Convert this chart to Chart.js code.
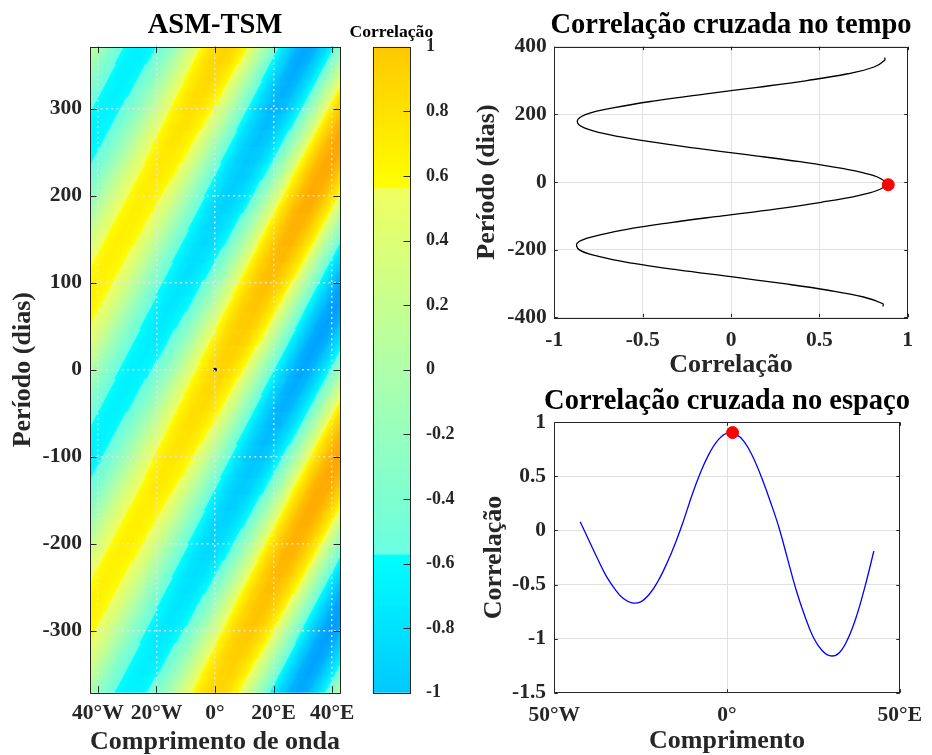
<!DOCTYPE html>
<html lang="pt">
<head>
<meta charset="utf-8">
<title>ASM-TSM</title>
<script src="https://cdn.jsdelivr.net/npm/chart.js"></script>
<style>
  html, body { margin: 0; padding: 0; background: #fff; }
  #quadro { position: relative; width: 932px; height: 755px; overflow: hidden; }
  canvas { position: absolute; }
</style>
</head>
<body>
<div id="quadro">
  <canvas id="mapa" width="365" height="755" style="left:0;top:0"></canvas>
  <canvas id="barra" width="115" height="755" style="left:340px;top:0"></canvas>
  <canvas id="tempo" width="472" height="390" style="left:460px;top:0"></canvas>
  <canvas id="espaco" width="472" height="385" style="left:460px;top:370px"></canvas>
</div>
<script>
// mapa ASM-TSM : colunas de longitude, linhas de defasagem (dias)
const lonColunas = [-45, -42, -39, -36, -33, -30, -27, -24, -21, -18, -15, -12, -9, -6, -3, 0,
  3, 6, 9, 12, 15, 18, 21, 24, 27, 30, 33, 36, 39, 42, 45];
const lagLinhas = [-361, -342, -323, -304, -285, -266, -247, -228, -209, -190, -171, -152, -133, -114, -95, -76, -57, -38, -19,
  0, 19, 38, 57, 76, 95, 114, 133, 152, 171, 190, 209, 228, 247, 266, 285, 304, 323, 342, 361];
const corrMapa = [
  [0.24, 0.02, -0.20, -0.40, -0.56, -0.65, -0.69, -0.65, -0.54, -0.37, -0.15, 0.11, 0.37, 0.60, 0.78, 0.88, 0.90, 0.81, 0.62, 0.35, 0.03, -0.32, -0.65, -0.93, -1.11, -1.17, -1.10, -0.90, -0.60, -0.23, 0.17],
  [0.43, 0.24, 0.02, -0.20, -0.40, -0.56, -0.66, -0.70, -0.67, -0.56, -0.38, -0.15, 0.11, 0.37, 0.62, 0.80, 0.91, 0.93, 0.83, 0.64, 0.37, 0.03, -0.33, -0.67, -0.95, -1.13, -1.19, -1.11, -0.91, -0.61, -0.24],
  [0.57, 0.43, 0.24, 0.02, -0.20, -0.40, -0.57, -0.67, -0.72, -0.69, -0.57, -0.39, -0.16, 0.11, 0.39, 0.64, 0.83, 0.94, 0.96, 0.86, 0.66, 0.38, 0.03, -0.34, -0.68, -0.96, -1.14, -1.20, -1.12, -0.92, -0.62],
  [0.65, 0.57, 0.43, 0.24, 0.02, -0.20, -0.41, -0.58, -0.69, -0.74, -0.70, -0.59, -0.41, -0.16, 0.12, 0.40, 0.66, 0.86, 0.97, 0.99, 0.89, 0.68, 0.39, 0.03, -0.34, -0.69, -0.98, -1.15, -1.21, -1.13, -0.93],
  [0.67, 0.65, 0.57, 0.43, 0.24, 0.02, -0.21, -0.41, -0.59, -0.71, -0.76, -0.72, -0.61, -0.42, -0.17, 0.12, 0.41, 0.68, 0.89, 1.00, 1.02, 0.91, 0.70, 0.40, 0.03, -0.35, -0.70, -0.99, -1.16, -1.22, -1.14],
  [0.61, 0.67, 0.65, 0.57, 0.43, 0.24, 0.02, -0.21, -0.43, -0.61, -0.73, -0.78, -0.75, -0.63, -0.43, -0.17, 0.13, 0.43, 0.70, 0.91, 1.03, 1.04, 0.94, 0.72, 0.40, 0.03, -0.36, -0.71, -0.99, -1.17, -1.23],
  [0.48, 0.61, 0.67, 0.65, 0.58, 0.43, 0.24, 0.02, -0.22, -0.44, -0.62, -0.75, -0.81, -0.77, -0.65, -0.45, -0.18, 0.13, 0.44, 0.72, 0.94, 1.06, 1.07, 0.96, 0.73, 0.41, 0.03, -0.36, -0.72, -1.00, -1.18],
  [0.30, 0.48, 0.61, 0.67, 0.66, 0.58, 0.44, 0.25, 0.02, -0.22, -0.45, -0.64, -0.78, -0.83, -0.80, -0.67, -0.46, -0.18, 0.13, 0.46, 0.75, 0.97, 1.09, 1.10, 0.98, 0.74, 0.42, 0.03, -0.36, -0.72, -1.01],
  [0.09, 0.30, 0.48, 0.61, 0.68, 0.66, 0.59, 0.45, 0.25, 0.02, -0.23, -0.46, -0.67, -0.80, -0.86, -0.83, -0.69, -0.48, -0.19, 0.14, 0.47, 0.77, 0.99, 1.12, 1.12, 1.00, 0.76, 0.42, 0.03, -0.36, -0.73],
  [-0.13, 0.09, 0.30, 0.48, 0.61, 0.68, 0.67, 0.60, 0.46, 0.26, 0.02, -0.23, -0.48, -0.68, -0.83, -0.89, -0.85, -0.72, -0.49, -0.19, 0.14, 0.48, 0.79, 1.02, 1.14, 1.14, 1.01, 0.76, 0.42, 0.03, -0.37],
  [-0.34, -0.13, 0.09, 0.30, 0.49, 0.61, 0.69, 0.68, 0.61, 0.47, 0.27, 0.02, -0.24, -0.49, -0.71, -0.86, -0.92, -0.88, -0.74, -0.51, -0.20, 0.15, 0.50, 0.81, 1.04, 1.16, 1.16, 1.02, 0.77, 0.43, 0.03],
  [-0.51, -0.34, -0.13, 0.09, 0.31, 0.49, 0.62, 0.70, 0.70, 0.63, 0.48, 0.27, 0.02, -0.25, -0.51, -0.73, -0.89, -0.95, -0.91, -0.76, -0.52, -0.21, 0.15, 0.51, 0.82, 1.06, 1.18, 1.17, 1.03, 0.78, 0.43],
  [-0.62, -0.51, -0.34, -0.13, 0.09, 0.31, 0.49, 0.63, 0.72, 0.72, 0.65, 0.50, 0.28, 0.02, -0.26, -0.53, -0.76, -0.91, -0.98, -0.94, -0.78, -0.54, -0.21, 0.15, 0.52, 0.84, 1.08, 1.19, 1.18, 1.04, 0.78],
  [-0.67, -0.62, -0.51, -0.34, -0.13, 0.09, 0.31, 0.50, 0.65, 0.74, 0.74, 0.66, 0.52, 0.29, 0.02, -0.27, -0.54, -0.78, -0.94, -1.01, -0.96, -0.81, -0.55, -0.22, 0.16, 0.53, 0.85, 1.08, 1.20, 1.19, 1.05],
  [-0.64, -0.67, -0.62, -0.51, -0.34, -0.13, 0.09, 0.32, 0.52, 0.67, 0.76, 0.76, 0.69, 0.53, 0.30, 0.02, -0.28, -0.56, -0.81, -0.97, -1.04, -0.99, -0.83, -0.57, -0.22, 0.16, 0.54, 0.86, 1.09, 1.21, 1.20],
  [-0.55, -0.64, -0.67, -0.62, -0.51, -0.34, -0.13, 0.10, 0.32, 0.53, 0.69, 0.78, 0.79, 0.71, 0.55, 0.31, 0.03, -0.28, -0.58, -0.83, -1.00, -1.07, -1.02, -0.85, -0.58, -0.22, 0.16, 0.54, 0.87, 1.10, 1.22],
  [-0.40, -0.55, -0.64, -0.67, -0.63, -0.51, -0.35, -0.13, 0.10, 0.33, 0.54, 0.71, 0.81, 0.81, 0.73, 0.57, 0.32, 0.03, -0.29, -0.60, -0.85, -1.03, -1.10, -1.05, -0.87, -0.59, -0.23, 0.16, 0.55, 0.87, 1.11],
  [-0.20, -0.40, -0.55, -0.64, -0.68, -0.63, -0.52, -0.35, -0.14, 0.10, 0.34, 0.56, 0.73, 0.83, 0.84, 0.76, 0.59, 0.33, 0.03, -0.30, -0.62, -0.88, -1.06, -1.13, -1.07, -0.88, -0.60, -0.23, 0.17, 0.55, 0.88],
  [0.02, -0.20, -0.40, -0.55, -0.65, -0.68, -0.64, -0.53, -0.36, -0.14, 0.10, 0.35, 0.58, 0.75, 0.85, 0.87, 0.78, 0.60, 0.34, 0.03, -0.31, -0.63, -0.90, -1.09, -1.15, -1.08, -0.90, -0.60, -0.23, 0.17, 0.55],
  [0.24, 0.02, -0.20, -0.40, -0.56, -0.65, -0.69, -0.65, -0.54, -0.37, -0.15, 0.11, 0.37, 0.60, 0.78, 0.88, 0.90, 0.81, 0.62, 0.35, 0.03, -0.32, -0.65, -0.93, -1.11, -1.17, -1.10, -0.90, -0.60, -0.23, 0.17],
  [0.43, 0.24, 0.02, -0.20, -0.40, -0.56, -0.66, -0.70, -0.67, -0.56, -0.38, -0.15, 0.11, 0.37, 0.62, 0.80, 0.91, 0.93, 0.83, 0.64, 0.37, 0.03, -0.33, -0.67, -0.95, -1.13, -1.19, -1.11, -0.91, -0.61, -0.24],
  [0.57, 0.43, 0.24, 0.02, -0.20, -0.40, -0.57, -0.67, -0.72, -0.69, -0.57, -0.39, -0.16, 0.11, 0.39, 0.64, 0.83, 0.94, 0.96, 0.86, 0.66, 0.38, 0.03, -0.34, -0.68, -0.96, -1.14, -1.20, -1.12, -0.92, -0.62],
  [0.65, 0.57, 0.43, 0.24, 0.02, -0.20, -0.41, -0.58, -0.69, -0.74, -0.70, -0.59, -0.41, -0.16, 0.12, 0.40, 0.66, 0.86, 0.97, 0.99, 0.89, 0.68, 0.39, 0.03, -0.34, -0.69, -0.98, -1.15, -1.21, -1.13, -0.93],
  [0.67, 0.65, 0.57, 0.43, 0.24, 0.02, -0.21, -0.41, -0.59, -0.71, -0.76, -0.72, -0.61, -0.42, -0.17, 0.12, 0.41, 0.68, 0.89, 1.00, 1.02, 0.91, 0.70, 0.40, 0.03, -0.35, -0.70, -0.99, -1.16, -1.22, -1.14],
  [0.61, 0.67, 0.65, 0.57, 0.43, 0.24, 0.02, -0.21, -0.43, -0.61, -0.73, -0.78, -0.75, -0.63, -0.43, -0.17, 0.13, 0.43, 0.70, 0.91, 1.03, 1.04, 0.94, 0.72, 0.40, 0.03, -0.36, -0.71, -0.99, -1.17, -1.23],
  [0.48, 0.61, 0.67, 0.65, 0.58, 0.43, 0.24, 0.02, -0.22, -0.44, -0.62, -0.75, -0.81, -0.77, -0.65, -0.45, -0.18, 0.13, 0.44, 0.72, 0.94, 1.06, 1.07, 0.96, 0.73, 0.41, 0.03, -0.36, -0.72, -1.00, -1.18],
  [0.30, 0.48, 0.61, 0.67, 0.66, 0.58, 0.44, 0.25, 0.02, -0.22, -0.45, -0.64, -0.78, -0.83, -0.80, -0.67, -0.46, -0.18, 0.13, 0.46, 0.75, 0.97, 1.09, 1.10, 0.98, 0.74, 0.42, 0.03, -0.36, -0.72, -1.01],
  [0.09, 0.30, 0.48, 0.61, 0.68, 0.66, 0.59, 0.45, 0.25, 0.02, -0.23, -0.46, -0.67, -0.80, -0.86, -0.83, -0.69, -0.48, -0.19, 0.14, 0.47, 0.77, 0.99, 1.12, 1.12, 1.00, 0.76, 0.42, 0.03, -0.36, -0.73],
  [-0.13, 0.09, 0.30, 0.48, 0.61, 0.68, 0.67, 0.60, 0.46, 0.26, 0.02, -0.23, -0.48, -0.68, -0.83, -0.89, -0.85, -0.72, -0.49, -0.19, 0.14, 0.48, 0.79, 1.02, 1.14, 1.14, 1.01, 0.76, 0.42, 0.03, -0.37],
  [-0.34, -0.13, 0.09, 0.30, 0.49, 0.61, 0.69, 0.68, 0.61, 0.47, 0.27, 0.02, -0.24, -0.49, -0.71, -0.86, -0.92, -0.88, -0.74, -0.51, -0.20, 0.15, 0.50, 0.81, 1.04, 1.16, 1.16, 1.02, 0.77, 0.43, 0.03],
  [-0.51, -0.34, -0.13, 0.09, 0.31, 0.49, 0.62, 0.70, 0.70, 0.63, 0.48, 0.27, 0.02, -0.25, -0.51, -0.73, -0.89, -0.95, -0.91, -0.76, -0.52, -0.21, 0.15, 0.51, 0.82, 1.06, 1.18, 1.17, 1.03, 0.78, 0.43],
  [-0.62, -0.51, -0.34, -0.13, 0.09, 0.31, 0.49, 0.63, 0.72, 0.72, 0.65, 0.50, 0.28, 0.02, -0.26, -0.53, -0.76, -0.91, -0.98, -0.94, -0.78, -0.54, -0.21, 0.15, 0.52, 0.84, 1.08, 1.19, 1.18, 1.04, 0.78],
  [-0.67, -0.62, -0.51, -0.34, -0.13, 0.09, 0.31, 0.50, 0.65, 0.74, 0.74, 0.66, 0.52, 0.29, 0.02, -0.27, -0.54, -0.78, -0.94, -1.01, -0.96, -0.81, -0.55, -0.22, 0.16, 0.53, 0.85, 1.08, 1.20, 1.19, 1.05],
  [-0.64, -0.67, -0.62, -0.51, -0.34, -0.13, 0.09, 0.32, 0.52, 0.67, 0.76, 0.76, 0.69, 0.53, 0.30, 0.02, -0.28, -0.56, -0.81, -0.97, -1.04, -0.99, -0.83, -0.57, -0.22, 0.16, 0.54, 0.86, 1.09, 1.21, 1.20],
  [-0.55, -0.64, -0.67, -0.62, -0.51, -0.34, -0.13, 0.10, 0.32, 0.53, 0.69, 0.78, 0.79, 0.71, 0.55, 0.31, 0.03, -0.28, -0.58, -0.83, -1.00, -1.07, -1.02, -0.85, -0.58, -0.22, 0.16, 0.54, 0.87, 1.10, 1.22],
  [-0.40, -0.55, -0.64, -0.67, -0.63, -0.51, -0.35, -0.13, 0.10, 0.33, 0.54, 0.71, 0.81, 0.81, 0.73, 0.57, 0.32, 0.03, -0.29, -0.60, -0.85, -1.03, -1.10, -1.05, -0.87, -0.59, -0.23, 0.16, 0.55, 0.87, 1.11],
  [-0.20, -0.40, -0.55, -0.64, -0.68, -0.63, -0.52, -0.35, -0.14, 0.10, 0.34, 0.56, 0.73, 0.83, 0.84, 0.76, 0.59, 0.33, 0.03, -0.30, -0.62, -0.88, -1.06, -1.13, -1.07, -0.88, -0.60, -0.23, 0.17, 0.55, 0.88],
  [0.02, -0.20, -0.40, -0.55, -0.65, -0.68, -0.64, -0.53, -0.36, -0.14, 0.10, 0.35, 0.58, 0.75, 0.85, 0.87, 0.78, 0.60, 0.34, 0.03, -0.31, -0.63, -0.90, -1.09, -1.15, -1.08, -0.90, -0.60, -0.23, 0.17, 0.55],
  [0.24, 0.02, -0.20, -0.40, -0.56, -0.65, -0.69, -0.65, -0.54, -0.37, -0.15, 0.11, 0.37, 0.60, 0.78, 0.88, 0.90, 0.81, 0.62, 0.35, 0.03, -0.32, -0.65, -0.93, -1.11, -1.17, -1.10, -0.90, -0.60, -0.23, 0.17]
];
const ticksLon = [-40, -20, 0, 20, 40];
const ticksPeriodo = [-300, -200, -100, 0, 100, 200, 300];
const ticksBarra = [-1, -0.8, -0.6, -0.4, -0.2, 0, 0.2, 0.4, 0.6, 0.8, 1];

// correlação cruzada no tempo
const periodoDias = [-368, -360, -340, -320, -300, -280, -260, -240, -220, -200, -180, -160, -140, -120, -100,
  -80, -60, -40, -20, 0, 20, 40, 60, 80, 100, 120, 140, 160, 180, 200, 220, 240, 260, 280, 300, 320, 340, 360, 368];
const corrTempo = [0.86, 0.86, 0.75, 0.55, 0.29, 0.00, -0.30, -0.56, -0.75, -0.86, -0.87, -0.77, -0.59, -0.34, -0.05,
  0.25, 0.51, 0.72, 0.85, 0.87, 0.80, 0.63, 0.39, 0.10, -0.20, -0.47, -0.69, -0.83, -0.87, -0.82, -0.66, -0.43, -0.15, 0.15, 0.43, 0.66, 0.81, 0.87, 0.87];
const maxTempo = [0.89, -8];
const ticksTempoX = [-1, -0.5, 0, 0.5, 1];
const ticksTempoY = [-400, -200, 0, 200, 400];

// correlação cruzada no espaço
const lonEspaco = [-42.5, -40, -37.5, -35, -32.5, -30, -27.5, -25, -22.5, -20, -17.5, -15, -12.5, -10, -7.5, -5, -2.5, 0,
  2.5, 5, 7.5, 10, 12.5, 15, 17.5, 20, 22.5, 25, 27.5, 30, 32.5, 35, 37.5, 40, 42.5];
const corrEspaco = [0.08, -0.09, -0.26, -0.42, -0.54, -0.63, -0.67, -0.66, -0.59, -0.47, -0.31, -0.12, 0.10, 0.34, 0.55, 0.72, 0.84, 0.90,
  0.89, 0.82, 0.68, 0.49, 0.27, 0.03, -0.26, -0.55, -0.79, -0.99, -1.11, -1.16, -1.13, -1.00, -0.79, -0.51, -0.19];
const maxEspaco = [1.6, 0.905];
const ticksEspacoX = [-50, 0, 50];
const ticksEspacoY = [-1.5, -1, -0.5, 0, 0.5, 1];

// inclinação das faixas: 3 graus (uma coluna) a cada 19 dias (uma linha)
const inclinacao = 3 / 19;

const fonte = '"Liberation Serif", "Times New Roman", serif';
Chart.defaults.font.family = fonte;
Chart.defaults.font.weight = 'bold';
Chart.defaults.color = '#262626';
Chart.defaults.animation = false;
Chart.defaults.plugins.legend.display = false;
Chart.defaults.plugins.tooltip.enabled = false;

// mapa de cores (valor, r, g, b)
const mapaCores = [
  [-1.25, 0, 150, 255],
  [-1.0, 0, 200, 255],
  [-0.575, 0, 255, 255],
  [-0.57, 105, 255, 225],
  [0, 175, 255, 170],
  [0.56, 240, 255, 95],
  [0.565, 255, 255, 0],
  [1.0, 255, 200, 0],
  [1.25, 255, 160, 0]
];

function corDe(v) {
  const a = mapaCores;
  if (v <= a[0][0]) return `rgb(${a[0][1]},${a[0][2]},${a[0][3]})`;
  for (let k = 1; k < a.length; k++) {
    if (v <= a[k][0]) {
      const t = (v - a[k - 1][0]) / (a[k][0] - a[k - 1][0]);
      const c = [1, 2, 3].map((n) => Math.round(a[k - 1][n] + t * (a[k][n] - a[k - 1][n])));
      return `rgb(${c[0]},${c[1]},${c[2]})`;
    }
  }
  const u = a[a.length - 1];
  return `rgb(${u[1]},${u[2]},${u[3]})`;
}

function rotuloLon(v) {
  if (v < 0) return -v + '°W';
  if (v > 0) return v + '°E';
  return '0°';
}

// cada linha do mapa vira uma faixa preenchida por gradiente inclinado
// (sombreamento entre colunas, como shading interp)
const passos = 6;
function gradienteLinha(ctx) {
  const chart = ctx.chart;
  if (!chart.chartArea || ctx.type !== 'data') return 'rgba(0,0,0,0)';
  const sx = chart.scales.x, sy = chart.scales.y;
  const i = ctx.dataIndex;
  const pxGrau = sx.getPixelForValue(1) - sx.getPixelForValue(0);
  const pxDia = sy.getPixelForValue(0) - sy.getPixelForValue(1);
  let nx = pxDia, ny = inclinacao * pxGrau;
  const nn = Math.hypot(nx, ny);
  nx /= nn; ny /= nn;
  const n = lonColunas.length;
  const lon0 = lonColunas[0], lon1 = lonColunas[n - 1];
  const x0 = sx.getPixelForValue(lon0), x1 = sx.getPixelForValue(lon1);
  const yc = sy.getPixelForValue(lagLinhas[i]);
  const L = (x1 - x0) * nx;
  const g = chart.ctx.createLinearGradient(x0, yc, x0 + L * nx, yc + L * ny);
  const linha = corrMapa[i];
  for (let j = 0; j < n - 1; j++) {
    for (let s = 0; s < passos; s++) {
      const f = s / passos;
      const lon = lonColunas[j] + f * (lonColunas[j + 1] - lonColunas[j]);
      const v = linha[j] + f * (linha[j + 1] - linha[j]);
      g.addColorStop((lon - lon0) / (lon1 - lon0), corDe(v));
    }
  }
  g.addColorStop(1, corDe(linha[n - 1]));
  return g;
}

function gradienteBarra(ctx) {
  const chart = ctx.chart;
  if (!chart.chartArea) return 'rgba(0,0,0,0)';
  const sy = chart.scales.y;
  const g = chart.ctx.createLinearGradient(0, sy.getPixelForValue(-1), 0, sy.getPixelForValue(1));
  g.addColorStop(0, corDe(-1));
  mapaCores.forEach((c) => {
    if (c[0] > -1 && c[0] < 1) g.addColorStop((c[0] + 1) / 2, `rgb(${c[1]},${c[2]},${c[3]})`);
  });
  g.addColorStop(1, corDe(1));
  return g;
}

// caixa com marcas de escala para dentro
const moldura = {
  id: 'moldura',
  afterDraw(chart, args, opts) {
    const { ctx, chartArea: a, scales } = chart;
    const L = opts.tick || 5;
    const lados = opts.lados || 'tblr';
    ctx.save();
    ctx.strokeStyle = '#262626';
    ctx.lineWidth = 1;
    ctx.beginPath();
    if (lados.includes('t') || lados.includes('b')) {
      scales.x.ticks.forEach((t) => {
        const px = Math.round(scales.x.getPixelForValue(t.value)) + 0.5;
        if (lados.includes('b')) { ctx.moveTo(px, a.bottom); ctx.lineTo(px, a.bottom - L); }
        if (lados.includes('t')) { ctx.moveTo(px, a.top); ctx.lineTo(px, a.top + L); }
      });
    }
    scales.y.ticks.forEach((t) => {
      const py = Math.round(scales.y.getPixelForValue(t.value)) + 0.5;
      if (lados.includes('l')) { ctx.moveTo(a.left, py); ctx.lineTo(a.left + L, py); }
      if (lados.includes('r')) { ctx.moveTo(a.right, py); ctx.lineTo(a.right - L, py); }
    });
    ctx.stroke();
    ctx.strokeRect(Math.round(a.left) + 0.5, Math.round(a.top) + 0.5, Math.round(a.width), Math.round(a.height));
    ctx.restore();
  }
};

const tituloPainel = {
  id: 'tituloPainel',
  afterDraw(chart, args, opts) {
    if (!opts.text) return;
    const { ctx, chartArea: a } = chart;
    ctx.save();
    ctx.font = `bold ${opts.size}px ${fonte}`;
    ctx.fillStyle = '#000';
    ctx.textAlign = 'center';
    ctx.textBaseline = 'alphabetic';
    ctx.fillText(opts.text, (a.left + a.right) / 2, opts.y);
    ctx.restore();
  }
};

const fixos = (arr) => (s) => { s.ticks = arr.map((v) => ({ value: v })); };

// --- mapa ---
new Chart(document.getElementById('mapa'), {
  type: 'bar',
  data: {
    datasets: [
      {
        type: 'scatter',
        data: [{ x: 0, y: 0 }],
        pointRadius: 2,
        backgroundColor: '#000',
        borderWidth: 0,
        order: 0
      },
      {
        type: 'bar',
        indexAxis: 'y',
        data: lagLinhas.map((lag) => ({ x: [lonColunas[0], lonColunas[lonColunas.length - 1]], y: lag })),
        backgroundColor: gradienteLinha,
        barPercentage: 1.08,
        categoryPercentage: 1,
        clip: 0,
        order: 1
      }
    ]
  },
  options: {
    responsive: false,
    layout: { padding: { top: 46.7, right: 25, left: 0, bottom: 0 } },
    scales: {
      x: {
        type: 'linear', min: -42.7, max: 42.7, offset: false,
        afterBuildTicks: fixos(ticksLon),
        afterFit: (s) => { s.height = 62.3; },
        ticks: { font: { size: 21.5 }, padding: 7.7, maxRotation: 0, autoSkip: false, callback: rotuloLon },
        grid: { color: 'rgba(228,228,228,0.95)', lineWidth: 1.5, drawTicks: false, offset: false, z: 1 },
        border: { display: false, dash: [2, 3.3] },
        title: { display: true, text: 'Comprimento de onda', font: { size: 26, lineHeight: 1 }, padding: { top: 0, bottom: 0 } }
      },
      y: {
        type: 'linear', min: -371, max: 371, offset: false,
        afterBuildTicks: fixos(ticksPeriodo),
        afterFit: (s) => { s.width = 90; },
        ticks: { font: { size: 21.5 }, padding: 8, autoSkip: false, callback: (v) => String(v) },
        grid: { color: 'rgba(228,228,228,0.95)', lineWidth: 1.5, drawTicks: false, offset: false, z: 1 },
        border: { display: false, dash: [2, 3.3] },
        title: { display: true, text: 'Período (dias)', font: { size: 26, lineHeight: 1 }, padding: { top: 9.8, bottom: 0 } }
      }
    },
    plugins: {
      tituloPainel: { text: 'ASM-TSM', size: 28.5, y: 33.3 },
      moldura: { tick: 6.5, lados: 'tblr' }
    }
  },
  plugins: [moldura, tituloPainel]
});

// --- barra de cores ---
new Chart(document.getElementById('barra'), {
  type: 'bar',
  data: {
    labels: [''],
    datasets: [{ data: [[-1, 1]], backgroundColor: gradienteBarra, barPercentage: 1, categoryPercentage: 1 }]
  },
  options: {
    responsive: false,
    layout: { padding: { top: 46.7, left: 32.7, right: 0, bottom: 62.3 } },
    scales: {
      x: { display: false },
      y: {
        position: 'right', min: -1, max: 1,
        afterBuildTicks: fixos(ticksBarra),
        afterFit: (s) => { s.width = 45; },
        ticks: { font: { size: 18 }, padding: 8, autoSkip: false, callback: (v) => String(v) },
        grid: { display: false },
        border: { display: false }
      }
    },
    plugins: {
      tituloPainel: { text: 'Correlação', size: 17.6, y: 36.7 },
      moldura: { tick: 6.5, lados: 'r' }
    }
  },
  plugins: [moldura, tituloPainel]
});

// --- correlação no tempo ---
new Chart(document.getElementById('tempo'), {
  type: 'scatter',
  data: {
    datasets: [
      {
        data: [{ x: maxTempo[0], y: maxTempo[1] }],
        pointRadius: 6, backgroundColor: '#ff0000', borderColor: '#ff0000', order: 0
      },
      {
        data: periodoDias.map((p, k) => ({ x: corrTempo[k], y: p })),
        showLine: true, borderColor: '#000', borderWidth: 1.3, pointRadius: 0, tension: 0.4, order: 1
      }
    ]
  },
  options: {
    responsive: false,
    layout: { padding: { top: 46.7, right: 24.3, left: 0, bottom: 0 } },
    scales: {
      x: {
        type: 'linear', min: -1, max: 1,
        afterBuildTicks: fixos(ticksTempoX),
        afterFit: (s) => { s.height = 72.7; },
        ticks: { font: { size: 21.5 }, padding: 10.1, maxRotation: 0, autoSkip: false, callback: (v) => String(v) },
        grid: { color: '#e1e1e1', drawTicks: false },
        border: { display: false },
        title: { display: true, text: 'Correlação', font: { size: 26, lineHeight: 1 }, padding: { top: 0, bottom: 11.3 } }
      },
      y: {
        type: 'linear', min: -400, max: 400,
        afterBuildTicks: fixos(ticksTempoY),
        afterFit: (s) => { s.width = 94.3; },
        ticks: { font: { size: 21.5 }, padding: 7.6, autoSkip: false, callback: (v) => String(v) },
        grid: { color: '#e1e1e1', drawTicks: false },
        border: { display: false },
        title: { display: true, text: 'Período (dias)', font: { size: 26, lineHeight: 1 }, padding: { top: 14.5, bottom: 0 } }
      }
    },
    plugins: {
      tituloPainel: { text: 'Correlação cruzada no tempo', size: 28.5, y: 33.3 },
      moldura: { tick: 3.5, lados: 'tblr' }
    }
  },
  plugins: [moldura, tituloPainel]
});

// --- correlação no espaço ---
new Chart(document.getElementById('espaco'), {
  type: 'scatter',
  data: {
    datasets: [
      {
        data: [{ x: maxEspaco[0], y: maxEspaco[1] }],
        pointRadius: 6, backgroundColor: '#ff0000', borderColor: '#ff0000', order: 0
      },
      {
        data: lonEspaco.map((l, k) => ({ x: l, y: corrEspaco[k] })),
        showLine: true, borderColor: '#0000ff', borderWidth: 1.3, pointRadius: 0, tension: 0.4, order: 1
      }
    ]
  },
  options: {
    responsive: false,
    layout: { padding: { top: 52.3, right: 24.3, left: 0, bottom: 0 } },
    scales: {
      x: {
        type: 'linear', min: -50, max: 50,
        afterBuildTicks: fixos(ticksEspacoX),
        afterFit: (s) => { s.height = 62.3; },
        ticks: { font: { size: 21.5 }, padding: 10, maxRotation: 0, autoSkip: false, callback: rotuloLon },
        grid: { color: '#e1e1e1', drawTicks: false },
        border: { display: false },
        title: { display: true, text: 'Comprimento', font: { size: 26, lineHeight: 1 }, padding: { top: 0, bottom: 0.3 } }
      },
      y: {
        type: 'linear', min: -1.5, max: 1,
        afterBuildTicks: fixos(ticksEspacoY),
        afterFit: (s) => { s.width = 94.3; },
        ticks: { font: { size: 21.5 }, padding: 8.3, autoSkip: false, callback: (v) => String(v) },
        grid: { color: '#e1e1e1', drawTicks: false },
        border: { display: false },
        title: { display: true, text: 'Correlação', font: { size: 26, lineHeight: 1 }, padding: { top: 21, bottom: 0 } }
      }
    },
    plugins: {
      tituloPainel: { text: 'Correlação cruzada no espaço', size: 28.5, y: 39.3 },
      moldura: { tick: 3.5, lados: 'tblr' }
    }
  },
  plugins: [moldura, tituloPainel]
});
</script>
</body>
</html>
